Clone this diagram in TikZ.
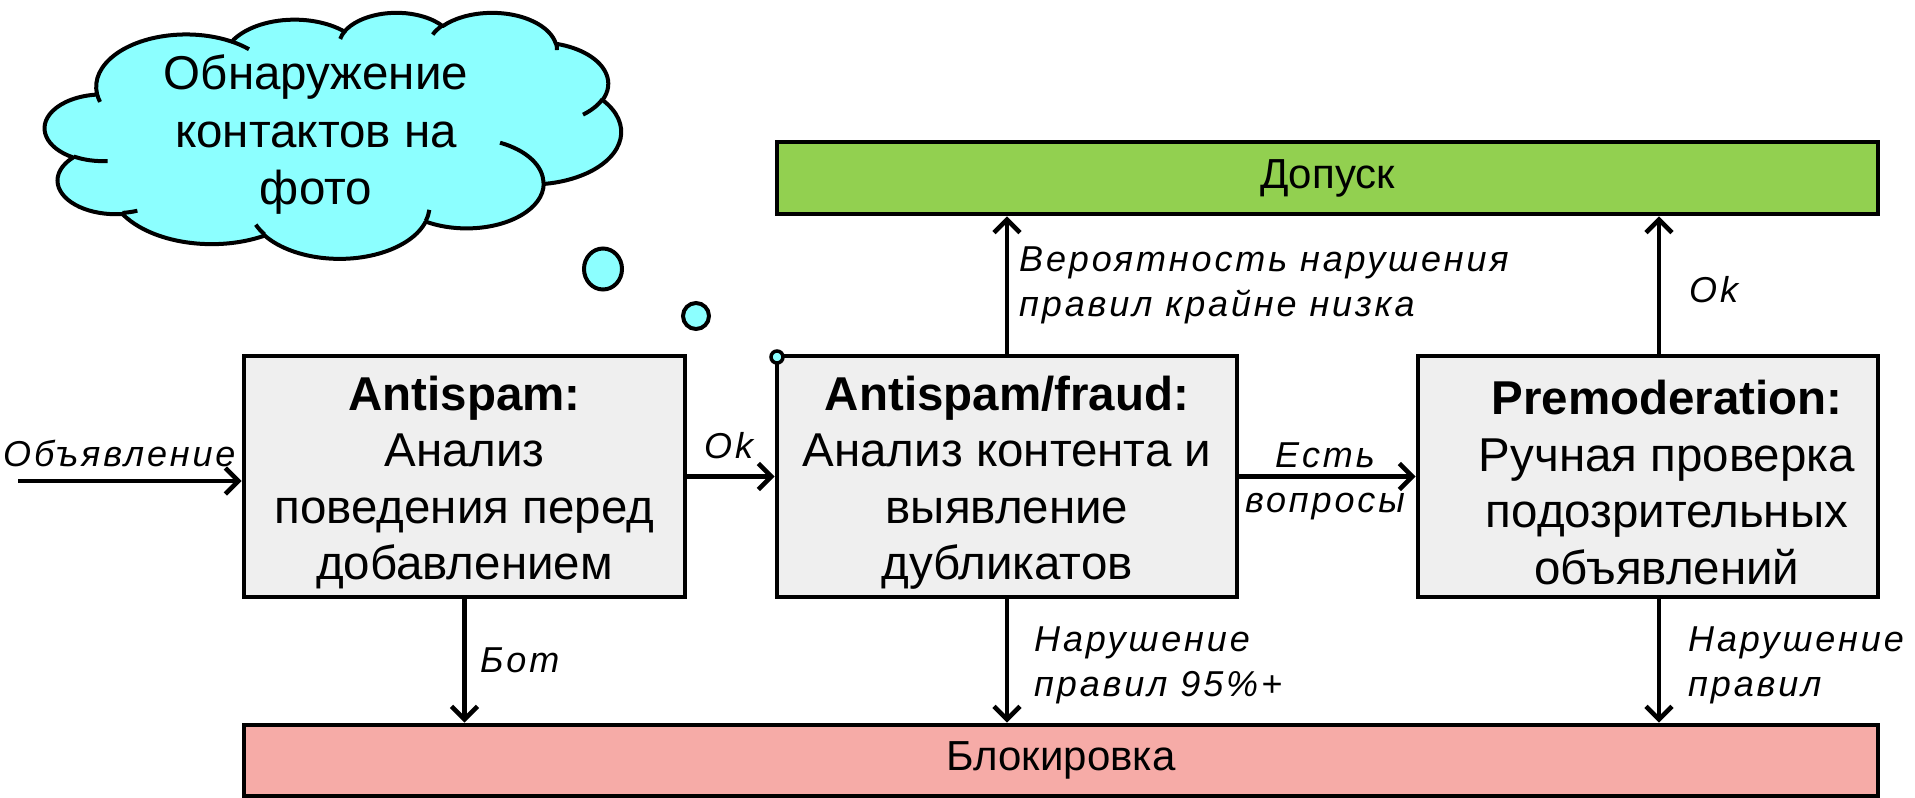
\documentclass[tikz,border=0pt]{standalone}
\usepackage{fontspec}
\setmainfont{Liberation Sans}
\newfontfamily\lblfont[LetterSpace=8]{Liberation Sans}
\usetikzlibrary{arrows.meta}
\definecolor{cloudcyan}{RGB}{140,255,255}
\definecolor{boxgray}{RGB}{239,239,239}
\definecolor{okgreen}{RGB}{146,208,80}
\definecolor{blockpink}{RGB}{246,171,167}
% one arc of the cloud outline: x radius, y radius, visual start angle, sweep
\newcommand\carc[4]{arc[start angle={atan2((#1)*sin(#3),(#2)*cos(#3))}, delta angle={mod(atan2((#1)*sin((#3)+(#4)),(#2)*cos((#3)+(#4)))-atan2((#1)*sin(#3),(#2)*cos(#3))+720,360)}, x radius=#1, y radius=#2]}
\begin{document}
\begin{tikzpicture}[x=1pt,y=-1pt,
  procbox/.style={draw=black, line width=4.8pt, fill=boxgray, inner sep=0pt},
  proctext/.style={inner sep=0pt, align=center, font=\fontsize{47.5}{56.5}\selectfont},
  resbar/.style={draw=black, line width=4.8pt, inner sep=0pt, font=\fontsize{42}{50}\selectfont},
  lbl/.style={inner sep=0pt, font=\lblfont\itshape\fontsize{36}{45}\selectfont, align=left},
  conn/.style={line width=4.6pt, -{Straight Barb[length=13pt,width=26pt]}},
  bubble/.style={draw=black, line width=4pt, fill=cloudcyan},
]
\useasboundingbox (0,0) rectangle (1915,798);

% cloud
\begin{scope}[shift={(45,12)}, x=1.3333pt, y=-0.5694pt]
\draw[line width=4pt, fill=cloudcyan, line join=round] (39,143.70)
  \carc{67.53}{91.90}{-190.4875}{123.7805}
  \carc{53.33}{72.67}{-144.1024}{89.9452}
  \carc{43.65}{59.45}{-145.8079}{99.7230}
  \carc{48.57}{65.95}{-130.9861}{117.2417}
  \carc{53.33}{72.73}{-78.7089}{109.0269}
  \carc{67.75}{92.20}{-46.2673}{130.2690}
  \carc{57.85}{78.67}{0.6250}{114.0333}
  \carc{67.52}{92.15}{22.4516}{115.1726}
  \carc{77.20}{105.43}{66.2426}{75.7110}
  \carc{43.60}{59.18}{-274.9421}{146.7356}
  \carc{43.45}{59.45}{-246.8285}{152.5195}
  -- cycle;
\draw[line width=4pt]
  (46.93,261.77) \carc{43.45}{59.45}{86.7420}{26.4295}
  (69.28,348.99) \carc{43.60}{59.18}{73.6105}{11.4475}
  (164.78,390.90) \carc{67.52}{92.15}{137.6242}{14.0811}
  (288.27,347.51) \carc{67.52}{92.15}{6.4533}{15.9984}
  (341.29,229.54) \carc{57.85}{78.67}{-70.2924}{70.9174}
  (417.98,153.54) \carc{53.33}{72.73}{30.3180}{27.7515}
  (383.24,54.26) \carc{48.57}{65.95}{-13.7443}{14.8524}
  (290.78,39.52) \carc{48.57}{65.95}{-149.1815}{18.1954}
  (221.41,47.20) \carc{43.65}{59.45}{-163.4943}{17.6864}
  (140.00,51.92) \carc{67.53}{91.90}{-66.7070}{12.3194}
  (41.27,157.89) \carc{67.53}{91.90}{157.6544}{11.8582};
\end{scope}
\node[inner sep=0pt, align=center, font=\fontsize{47.5}{57.5}\selectfont] (cloudtext) at (316,135)
  {Обнаружение\\контактов на\\фото};

% result bars
\node[resbar, fill=okgreen, minimum width=1101pt, minimum height=72pt] (dop) at (1327.5,178) {Допуск};
\node[resbar, fill=blockpink, minimum width=1634pt, minimum height=71pt] (blk) at (1061,760.5) {Блокировка};

% process boxes
\node[procbox, minimum width=441pt, minimum height=241pt] (as) at (464.5,476.5) {};
\node[procbox, minimum width=460pt, minimum height=241pt] (fr) at (1007,476.5) {};
\node[procbox, minimum width=460pt, minimum height=241pt] (pm) at (1648,476.5) {};
\node[proctext] (asText) at ([yshift=-6pt]as.center)
  {\textbf{Antispam:}\\Анализ\\поведения перед\\добавлением};
\node[proctext] (frText) at ([yshift=-6pt]fr.center)
  {\textbf{Antispam/fraud:}\\Анализ контента и\\выявление\\дубликатов};
\node[proctext] (pmText) at ([xshift=19pt,yshift=-6pt]pm.center)
  {\textbf{Premoderation:}\\Ручная проверка\\подозрительных\\объявлений};

% thought bubbles
\draw[bubble] (603,269) ellipse [x radius=19, y radius=20.5];
\draw[bubble] (696,316) circle [radius=13];
\draw[bubble, line width=3.5pt] (777,357) circle [radius=6];

% connectors
\coordinate (src) at (18,481);
\coordinate (pmT) at ([xshift=11pt]pm.north);
\coordinate (pmB) at ([xshift=11pt]pm.south);
\draw[conn] (src) -- (src -| as.west);
\draw[conn] (as.east) -- (fr.west);
\draw[conn] (fr.east) -- (pm.west);
\draw[conn] (fr.north) -- (fr.north |- dop.south);
\draw[conn] (pmT) -- (pmT |- dop.south);
\draw[conn] (as.south) -- (as.south |- blk.north);
\draw[conn] (fr.south) -- (fr.south |- blk.north);
\draw[conn] (pmB) -- (pmB |- blk.north);

% labels
\node[lbl, anchor=base west] (lIn) at (3,466) {Объявление};
\node[lbl, anchor=base west] (lOk1) at (704,458) {Ok};
\node[lbl, anchor=west] (lVer) at (1019,285) {Вероятность нарушения\\правил крайне низка};
\node[lbl, align=center] (lEst) at (1325,481) {Есть\\вопросы};
\node[lbl, anchor=base west] (lOk2) at (1689,302) {Ok};
\node[lbl, anchor=base west] (lBot) at (480,672) {Бот};
\node[lbl, anchor=west] (lNar1) at (1034,665) {Нарушение\\правил 95\%+};
\node[lbl, anchor=west] (lNar2) at (1688,665) {Нарушение\\правил};
\end{tikzpicture}
\end{document}
